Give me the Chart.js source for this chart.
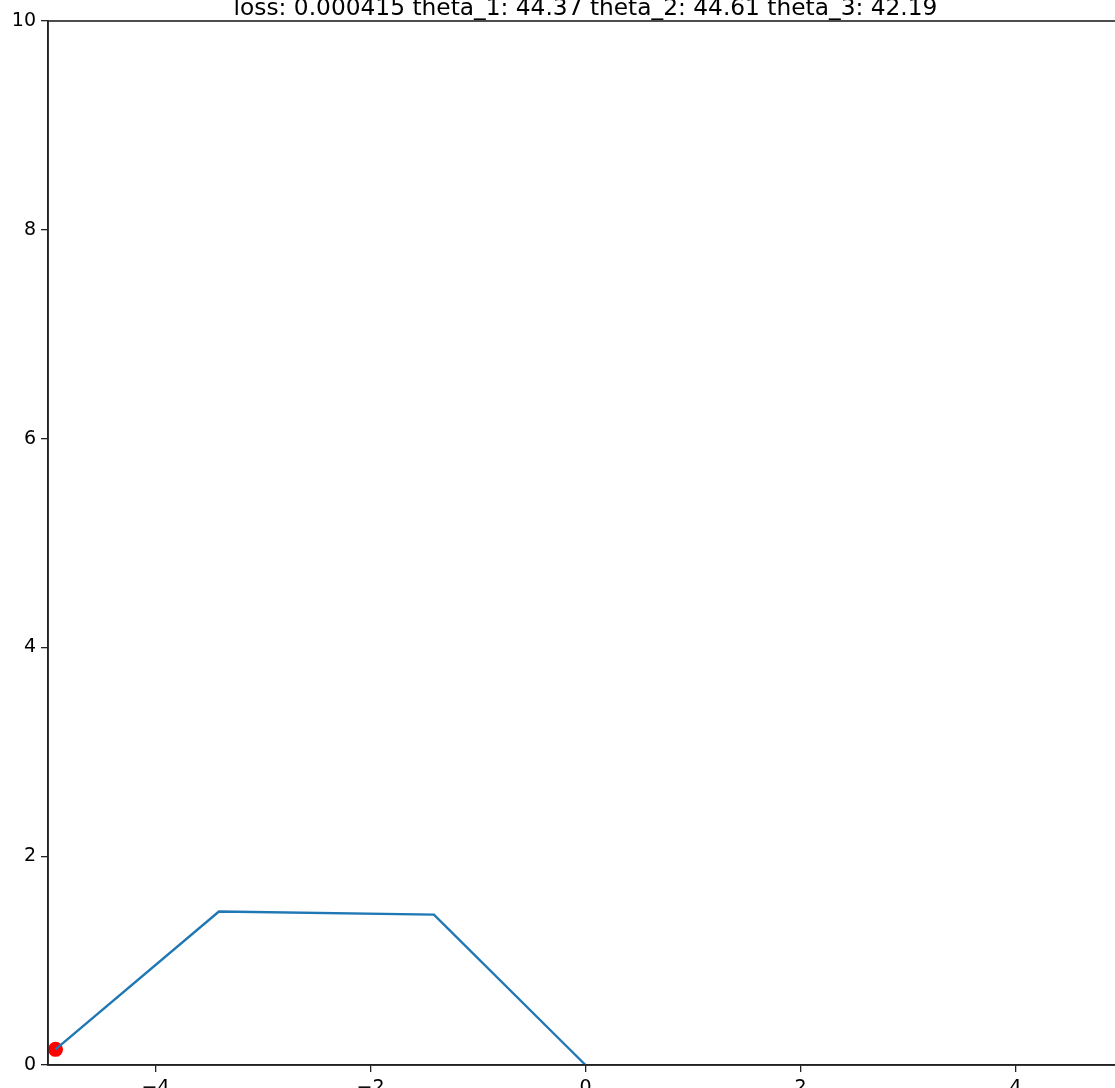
<!DOCTYPE html>
<html>
<head>
<meta charset="utf-8">
<script src="https://cdn.jsdelivr.net/npm/chart.js@4/dist/chart.umd.min.js"></script>
<style>
  html, body { margin: 0; padding: 0; background: #fff; overflow: hidden; }
  #wrap { width: 1140px; height: 1088px; }
</style>
</head>
<body>
<div id="wrap"><canvas id="c" width="1140" height="1088"></canvas></div>
<script>
// Arm joints, from the base at the origin out to the end effector
const armX = [0, -1.41, -3.41, -4.93];
const armY = [0, 1.44, 1.47, 0.15];
// Target position
const targetX = [-4.93];
const targetY = [0.15];
// Axis ticks
const xTicks = [-4, -2, 0, 2, 4];
const yTicks = [0, 2, 4, 6, 8, 10];
const titleText = 'loss: 0.000415 theta_1: 44.37 theta_2: 44.61 theta_3: 42.19';

const FONT = "'DejaVu Sans', sans-serif";

const framePlugin = {
  id: 'frame',
  afterDatasetsDraw(chart) {
    const { ctx, chartArea: a } = chart;
    ctx.save();
    ctx.strokeStyle = '#222';
    ctx.lineWidth = 1.6;
    ctx.strokeRect(a.left, a.top, a.right - a.left, a.bottom - a.top);
    ctx.fillStyle = '#000';
    ctx.font = '23.3px ' + FONT;
    ctx.textAlign = 'center';
    ctx.textBaseline = 'alphabetic';
    ctx.fillText(titleText, (a.left + a.right) / 2, 15);
    ctx.restore();
  }
};

new Chart(document.getElementById('c'), {
  type: 'scatter',
  data: {
    datasets: [
      {
        type: 'line',
        data: armX.map((x, i) => ({ x, y: armY[i] })),
        borderColor: '#1f77b4',
        borderWidth: 2.4,
        pointRadius: 0,
        fill: false,
        tension: 0,
        order: 0,
        clip: false
      },
      {
        data: targetX.map((x, i) => ({ x, y: targetY[i] })),
        backgroundColor: '#ff0000',
        borderWidth: 0,
        pointRadius: 7.5,
        order: 1,
        clip: false
      }
    ]
  },
  options: {
    responsive: false,
    animation: false,
    events: [],
    layout: { padding: { left: 0, right: 17, top: 21, bottom: 0 } },
    plugins: { legend: { display: false }, tooltip: { enabled: false }, title: { display: false } },
    scales: {
      x: {
        type: 'linear',
        min: -5, max: 5,
        afterBuildTicks(s) { s.ticks = xTicks.map(v => ({ value: v })); },
        afterFit(s) { s.height = 23; },
        grid: { drawOnChartArea: false, drawTicks: true, tickLength: 7, color: '#222', lineWidth: 1.3 },
        border: { display: true, color: '#222', width: 1.6 },
        ticks: {
          padding: 5,
          color: '#000',
          font: { family: FONT, size: 19 },
          maxRotation: 0,
          callback: v => String(v).replace('-', '\u2212')
        }
      },
      y: {
        type: 'linear',
        min: 0, max: 10,
        afterBuildTicks(s) { s.ticks = yTicks.map(v => ({ value: v })); },
        afterFit(s) { s.width = 48; },
        grid: { drawOnChartArea: false, drawTicks: true, tickLength: 7, color: '#222', lineWidth: 1.3 },
        border: { display: true, color: '#222', width: 1.6 },
        ticks: {
          padding: 5,
          color: '#000',
          font: { family: FONT, size: 19 },
          callback: v => String(v)
        }
      }
    }
  },
  plugins: [framePlugin]
});
</script>
</body>
</html>
